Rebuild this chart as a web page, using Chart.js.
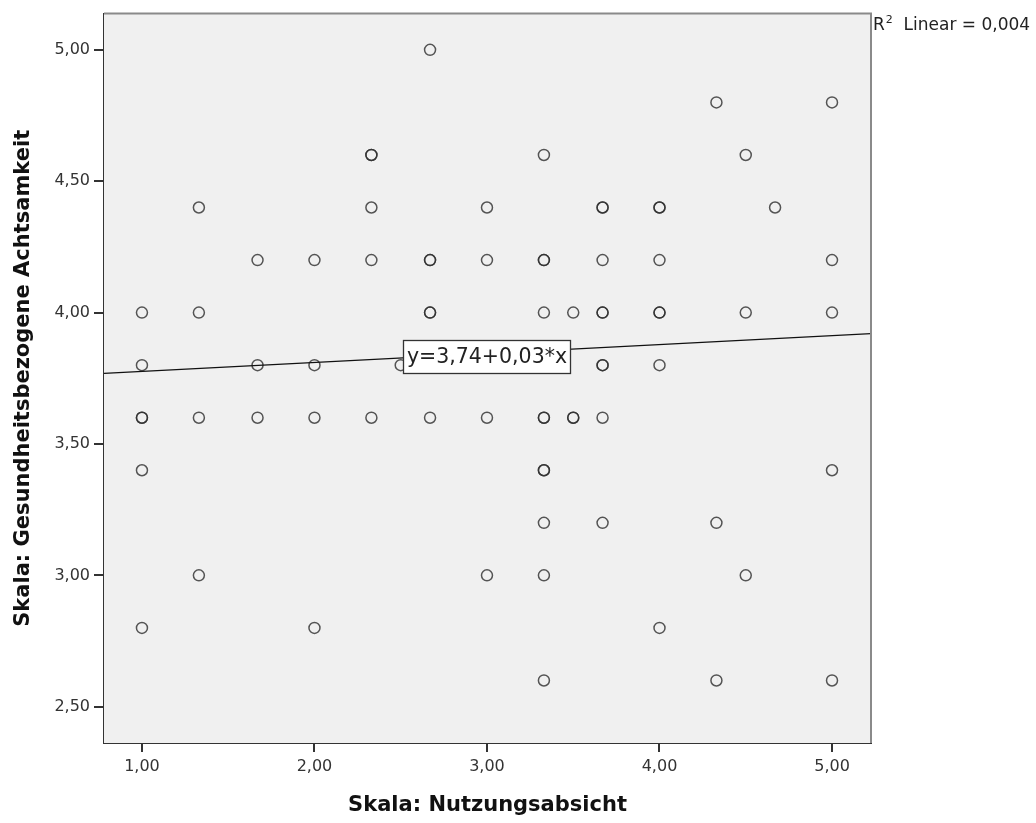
<!DOCTYPE html>
<html>
<head>
<meta charset="utf-8">
<script src="https://cdn.jsdelivr.net/npm/chart.js@4.4.1/dist/chart.umd.min.js"></script>
<style>
html,body{margin:0;padding:0;background:#fff;}
#wrap{width:1036px;height:823px;}
</style>
</head>
<body>
<div id="wrap"><canvas id="c" width="1036" height="823"></canvas></div>
<script>
// ---- data ----
const xValues = [
  1,1,1,1,1,1,
  1.33,1.33,1.33,1.33,
  1.67,1.67,1.67,
  2,2,2,2,
  2.33,2.33,2.33,2.33,2.33,
  2.5,
  2.67,2.67,2.67,2.67,2.67,2.67,
  3,3,3,3,
  3.33,3.33,3.33,3.33,3.33,3.33,3.33,3.33,3.33,3.33,3.33,
  3.5,3.5,3.5,
  3.67,3.67,3.67,3.67,3.67,3.67,3.67,3.67,3.67,
  4,4,4,4,4,4,4,
  4.33,4.33,4.33,
  4.5,4.5,4.5,
  4.67,
  5,5,5,5,5
];
const yValues = [
  4.0,3.8,3.6,3.6,3.4,2.8,
  4.4,4.0,3.6,3.0,
  4.2,3.8,3.6,
  4.2,3.8,3.6,2.8,
  4.6,4.6,4.4,4.2,3.6,
  3.8,
  5.0,4.2,4.2,4.0,4.0,3.6,
  4.4,4.2,3.6,3.0,
  4.6,4.2,4.2,4.0,3.6,3.6,3.4,3.4,3.2,3.0,2.6,
  4.0,3.6,3.6,
  4.4,4.4,4.2,4.0,4.0,3.8,3.8,3.6,3.2,
  4.4,4.4,4.2,4.0,4.0,3.8,2.8,
  4.8,3.2,2.6,
  4.6,4.0,3.0,
  4.4,
  4.8,4.2,4.0,3.4,2.6
];
const xTickValues = [1,2,3,4,5];
const yTickValues = [2.5,3.0,3.5,4.0,4.5,5.0];
const xRange = [0.78, 5.226];
const yRange = [2.362, 5.138];
const fitIntercept = 3.742;
const fitSlope = 0.034;
const equationText = 'y=3,74+0,03*x';
const r2Label = ['R', '2', '  Linear = 0,004'];
const xTitle = 'Skala: Nutzungsabsicht';
const yTitle = 'Skala: Gesundheitsbezogene Achtsamkeit';

const FONT = "'DejaVu Sans', sans-serif";
const points = xValues.map((x, i) => ({x: x, y: yValues[i]}));
const fitLine = xRange.map(x => ({x: x, y: fitIntercept + fitSlope * x}));
const fmt = v => Number(v).toFixed(2).replace('.', ',');

const framePlugin = {
  id: 'frame',
  beforeDatasetsDraw(chart) {
    const {ctx, chartArea: a} = chart;
    ctx.save();
    ctx.fillStyle = '#f0f0f0';
    ctx.fillRect(a.left, a.top, a.right - a.left, a.bottom - a.top);
    ctx.restore();
  },
  afterDatasetsDraw(chart) {
    const {ctx, chartArea: a, scales} = chart;
    ctx.save();
    // top & right frame
    ctx.strokeStyle = '#8a8a8a';
    ctx.lineWidth = 2;
    ctx.beginPath();
    ctx.moveTo(a.left, a.top);
    ctx.lineTo(a.right, a.top);
    ctx.lineTo(a.right, a.bottom);
    ctx.stroke();
    // equation label at x = 3 on the fit line
    const xv = 3;
    const cx = scales.x.getPixelForValue(xv);
    const cy = scales.y.getPixelForValue(fitIntercept + fitSlope * xv) + 3;
    ctx.font = '20.5px ' + FONT;
    const w = ctx.measureText(equationText).width + 7;
    const h = 33;
    const bx = Math.round(cx - w / 2) + 0.5, by = Math.round(cy - h / 2) + 0.5;
    ctx.fillStyle = '#fff';
    ctx.fillRect(bx, by, Math.round(w), h);
    ctx.strokeStyle = '#333';
    ctx.lineWidth = 1.3;
    ctx.strokeRect(bx, by, Math.round(w), h);
    ctx.fillStyle = '#222';
    ctx.textAlign = 'center';
    ctx.textBaseline = 'middle';
    ctx.fillText(equationText, cx, cy + 1);
    // R^2 label
    let tx = a.right + 2;
    const ty = 24;
    ctx.textAlign = 'left';
    ctx.textBaseline = 'alphabetic';
    ctx.fillStyle = '#222';
    ctx.font = '17px ' + FONT;
    ctx.fillText(r2Label[0], tx, ty + 6);
    tx += ctx.measureText(r2Label[0]).width + 1;
    ctx.font = '11px ' + FONT;
    ctx.fillText(r2Label[1], tx, ty - 1);
    tx += ctx.measureText(r2Label[1]).width;
    ctx.font = '17px ' + FONT;
    ctx.fillText(r2Label[2], tx, ty + 6);
    ctx.restore();
  }
};

new Chart(document.getElementById('c'), {
  type: 'scatter',
  data: {
    datasets: [
      {
        type: 'line',
        data: fitLine,
        borderColor: '#111',
        borderWidth: 1.3,
        pointRadius: 0,
        fill: false,
        order: 0
      },
      {
        data: points,
        pointStyle: 'circle',
        pointRadius: 5.5,
        pointBorderWidth: 1.5,
        backgroundColor: 'rgba(0,0,0,0)',
        borderColor: 'rgba(45,45,45,0.8)',
        order: 1
      }
    ]
  },
  options: {
    responsive: false,
    animation: false,
    events: [],
    layout: {padding: {top: 10, right: 165, left: 0, bottom: 0}},
    plugins: {legend: {display: false}, tooltip: {enabled: false}, title: {display: false}},
    scales: {
      x: {
        type: 'linear',
        min: xRange[0], max: xRange[1],
        afterBuildTicks: s => { s.ticks = xTickValues.map(v => ({value: v})); },
        afterFit: s => { s.height = 80; },
        grid: {drawOnChartArea: false, drawTicks: true, tickLength: 9, color: '#333', lineWidth: 2},
        border: {display: true, color: '#333', width: 2},
        ticks: {callback: v => fmt(v), font: {family: FONT, size: 16}, color: '#333', padding: 5, maxRotation: 0},
        title: {display: true, text: xTitle, font: {family: FONT, size: 21, weight: 'bold'}, color: '#111', padding: {top: 0, bottom: 5}}
      },
      y: {
        type: 'linear',
        min: yRange[0], max: yRange[1],
        afterBuildTicks: s => { s.ticks = yTickValues.map(v => ({value: v})); },
        afterFit: s => { s.width = 104; },
        grid: {drawOnChartArea: false, drawTicks: true, tickLength: 10, color: '#333', lineWidth: 2},
        border: {display: true, color: '#333', width: 2},
        ticks: {callback: v => fmt(v), font: {family: FONT, size: 16}, color: '#333', padding: 4},
        title: {display: true, text: yTitle, font: {family: FONT, size: 21, weight: 'bold'}, color: '#111', padding: {top: 11, bottom: 0}}
      }
    }
  },
  plugins: [framePlugin]
});
</script>
</body>
</html>
